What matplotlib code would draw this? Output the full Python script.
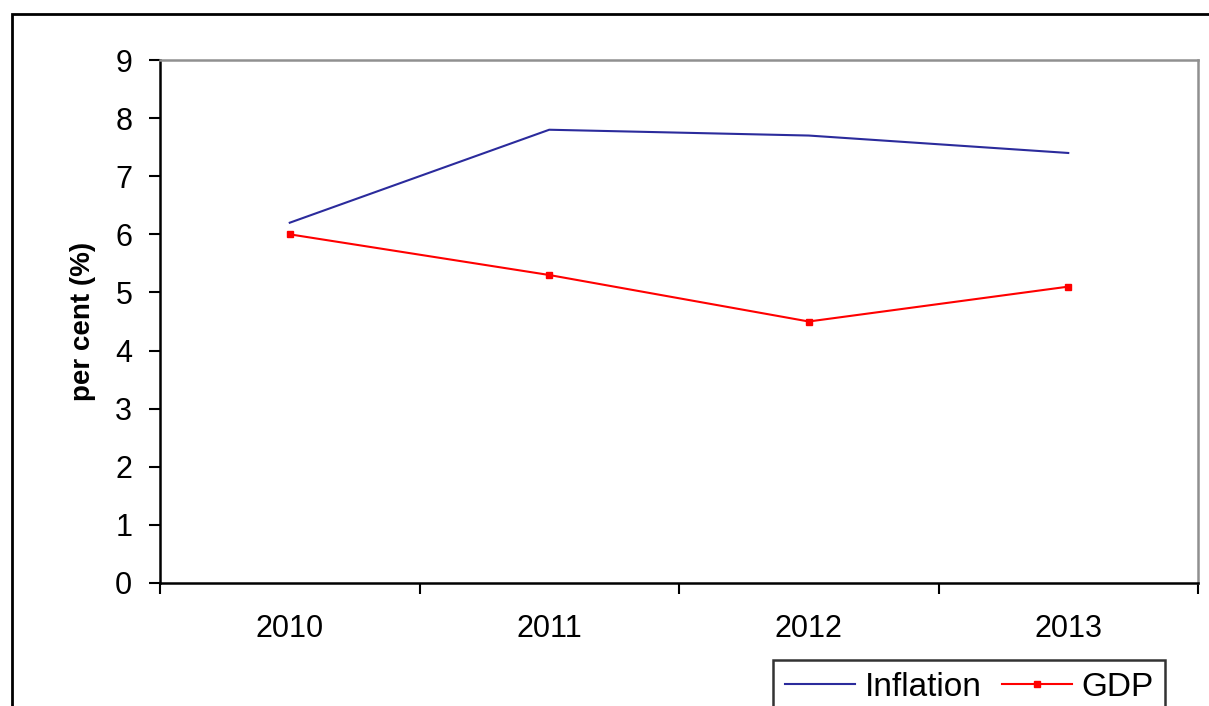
import numpy as np
import matplotlib.pyplot as plt
from matplotlib.patches import Rectangle

years = ["2010", "2011", "2012", "2013"]
inflation = [6.2, 7.8, 7.7, 7.4]
gdp = [6.0, 5.3, 4.5, 5.1]

plt.rcParams['font.family'] = ['Liberation Sans', 'DejaVu Sans']

fig = plt.figure(figsize=(12.09, 7.06), dpi=100)
# outer chart border (runs off the right and bottom edges)
fig.patches.append(Rectangle((12/1209, -0.1), 1.2, (706-14)/706 + 0.1,
                             transform=fig.transFigure, fill=False,
                             edgecolor='black', linewidth=2))

ax = fig.add_axes([160/1209, 123/706, 1038/1209, 523/706])
x = np.arange(len(years))
ax.plot(x, inflation, color='#2b2b9c', lw=1.5, label='Inflation')
ax.plot(x, gdp, color='red', lw=1.5, marker='s', ms=4.5, label='GDP')

ax.set_xlim(-0.5, 3.5)
ax.set_ylim(0, 9)
ax.set_yticks(range(0, 10))
ax.set_xticks(x)
ax.set_xticklabels(years)
ax.set_xticks(np.arange(-0.5, 4.0, 1.0), minor=True)
ax.tick_params(axis='x', which='major', length=0, pad=22, labelsize=22)
ax.tick_params(axis='x', which='minor', length=8, width=1.5, direction='out')
ax.tick_params(axis='y', length=8, width=1.5, direction='out', pad=12, labelsize=22)

for s in ['left', 'bottom']:
    ax.spines[s].set_color('black')
    ax.spines[s].set_linewidth(1.8)
for s in ['top', 'right']:
    ax.spines[s].set_color('#909090')
    ax.spines[s].set_linewidth(1.8)

ax.set_ylabel('per cent (%)', fontsize=20, fontweight='bold', labelpad=14)

leg = fig.legend(loc='upper left', bbox_to_anchor=(773/1209, 46/706),
                 bbox_transform=fig.transFigure, ncol=2, fontsize=24,
                 frameon=True, fancybox=False, edgecolor='black',
                 borderpad=0.35, handlelength=2.1, handletextpad=0.3,
                 columnspacing=0.6, borderaxespad=0)
leg.get_frame().set_linewidth(1.8)

fig.savefig('out.png', dpi=100)
